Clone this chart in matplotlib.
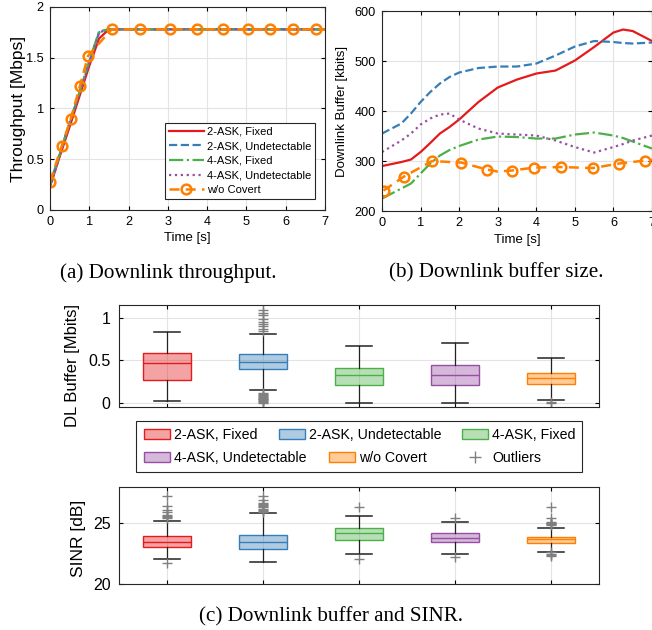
import matplotlib
matplotlib.use("Agg")
import matplotlib.pyplot as plt
from matplotlib.patches import Patch, Rectangle
from matplotlib.lines import Line2D

plt.rcParams['font.family'] = ['Liberation Sans', 'DejaVu Sans']

nomes = ["2-ASK, Fixed", "2-ASK, Undetectable", "4-ASK, Fixed", "4-ASK, Undetectable", "w/o Covert"]
cores = ["#e41a1c", "#377eb8", "#4daf4a", "#984ea3", "#ff7f00"]

# (a) throughput
t_thr = [0, 0.25, 0.5, 0.75, 1.0, 1.25, 1.5, 2, 3, 4, 5, 6, 7]
thr_2f = [0.23, 0.53, 0.82, 1.12, 1.42, 1.69, 1.78, 1.78, 1.78, 1.78, 1.78, 1.78, 1.78]
thr_2u = [0.25, 0.56, 0.86, 1.16, 1.46, 1.75, 1.78, 1.78, 1.78, 1.78, 1.78, 1.78, 1.78]
thr_4f = [0.24, 0.55, 0.86, 1.16, 1.47, 1.76, 1.78, 1.78, 1.78, 1.78, 1.78, 1.78, 1.78]
thr_4u = [0.22, 0.54, 0.85, 1.15, 1.45, 1.75, 1.78, 1.78, 1.78, 1.78, 1.78, 1.78, 1.78]
t_thr_wo = [0, 0.30, 0.53, 0.76, 0.97, 1.57, 2.29, 3.05, 3.73, 4.41, 5.04, 5.61, 6.19, 6.78, 7]
thr_wo = [0.28, 0.63, 0.90, 1.22, 1.52, 1.78, 1.78, 1.78, 1.78, 1.78, 1.78, 1.78, 1.78, 1.78, 1.78]

# (b) buffer
t_buf = [0, 0.5, 0.75, 1, 1.25, 1.5, 1.75, 2, 2.5, 3, 3.5, 4, 4.5, 5, 5.5, 6, 6.25, 6.5, 7]
buf_2f = [290, 298, 303, 318, 336, 355, 368, 383, 418, 447, 463, 475, 481, 501, 528, 557, 563, 560, 540]
buf_2u = [355, 375, 395, 418, 438, 455, 468, 477, 486, 489, 489, 495, 511, 529, 540, 538, 536, 535, 537]
buf_4f = [225, 245, 255, 275, 295, 311, 322, 330, 343, 349, 348, 345, 345, 353, 357, 351, 346, 339, 325]
buf_4u = [318, 341, 355, 373, 385, 393, 395, 383, 365, 355, 353, 351, 341, 328, 317, 328, 334, 341, 351]
t_buf_wo = [0.04, 0.57, 1.3, 2.05, 2.72, 3.0, 3.36, 3.95, 4.63, 5.47, 6.14, 6.82, 7]
buf_wo = [241, 269, 300, 297, 283, 279, 281, 287, 288, 286, 295, 301, 302]
marc_wo = [0, 1, 2, 3, 4, 6, 7, 8, 9, 10, 11]

# (c) box plots
dl_whislo = [0.016, 0.146, 0.0, 0.0, 0.028]
dl_q1 = [0.267, 0.393, 0.212, 0.212, 0.216]
dl_med = [0.47, 0.48, 0.322, 0.33, 0.287]
dl_q3 = [0.588, 0.573, 0.408, 0.44, 0.353]
dl_whishi = [0.835, 0.808, 0.667, 0.706, 0.525]
dl_fliers = [
    [],
    [0.84, 0.87, 0.90, 0.93, 0.95, 0.99, 1.03, 1.055, 1.09,
     0.0, 0.01, 0.02, 0.03, 0.04, 0.05, 0.06, 0.07, 0.08, 0.09, 0.1, 0.12],
    [],
    [],
    [0.0, 0.005],
]

sinr_whislo = [22.03, 21.78, 22.47, 22.47, 22.63]
sinr_q1 = [23.07, 22.88, 23.62, 23.43, 23.38]
sinr_med = [23.46, 23.46, 24.18, 23.79, 23.68]
sinr_q3 = [23.95, 24.06, 24.64, 24.18, 23.9]
sinr_whishi = [25.2, 25.82, 25.63, 25.1, 24.61]
sinr_fliers = [
    [25.4, 25.5, 25.6, 25.7, 25.9, 26.1, 26.4, 27.25, 21.7],
    [25.9, 26.0, 26.1, 26.2, 26.3, 26.4, 26.5, 26.6, 26.7, 26.9, 27.25],
    [26.29, 22.05],
    [25.46, 22.2],
    [24.85, 24.9, 24.95, 25.0, 25.05, 25.1, 25.46, 26.29, 22.3, 22.4, 22.5, 22.6],
]

fig = plt.figure(figsize=(6.52, 6.30), dpi=100)

def estilo(ax, tam):
    ax.grid(True, color="#e3e3e3", linewidth=0.8)
    ax.set_axisbelow(True)
    ax.tick_params(direction="in", top=True, right=True, labelsize=tam, length=3, pad=4.5)
    for s in ax.spines.values():
        s.set_color("#262626")
        s.set_linewidth(0.8)

# (a)
ax1 = fig.add_axes([0.0767, 0.6667, 0.4218, 0.3222])
ax1.plot(t_thr, thr_2f, "-", color=cores[0], lw=1.6, label=nomes[0])
ax1.plot(t_thr, thr_2u, "--", color=cores[1], lw=1.6, label=nomes[1])
ax1.plot(t_thr, thr_4f, "-.", color=cores[2], lw=1.6, label=nomes[2])
ax1.plot(t_thr, thr_4u, ":", color=cores[3], lw=1.6, label=nomes[3])
ax1.plot(t_thr_wo, thr_wo, "--", color=cores[4], lw=1.8, marker="o", ms=7,
         mfc="none", mew=1.8, markevery=list(range(14)), dashes=(4, 2.5), label=nomes[4])
ax1.set_xlim(0, 7)
ax1.set_ylim(0, 2)
ax1.set_xticks(range(8))
ax1.set_yticks([0, 0.5, 1, 1.5, 2])
ax1.set_yticklabels(["0", "0.5", "1", "1.5", "2"])
ax1.set_xlabel("Time [s]", fontsize=9.5)
ax1.set_ylabel("Throughput [Mbps]", fontsize=12.5)
ax1.xaxis.set_label_coords(0.5, -0.138)
ax1.xaxis.label.set_va("center")
ax1.yaxis.set_label_coords(-0.113, 0.5)
ax1.yaxis.label.set_va("center")
estilo(ax1, 9.2)
leg1 = ax1.legend(loc="lower right", bbox_to_anchor=(0.964, 0.054), fontsize=8,
                  fancybox=False, edgecolor="#262626", framealpha=1, handlelength=3.1,
                  handletextpad=0.3, borderpad=0.35, labelspacing=0.42, borderaxespad=0)
leg1.get_frame().set_linewidth(0.8)

# (b)
ax2 = fig.add_axes([0.5859, 0.665, 0.4141, 0.3175])
ax2.plot(t_buf, buf_2f, "-", color=cores[0], lw=1.6)
ax2.plot(t_buf, buf_2u, "--", color=cores[1], lw=1.6)
ax2.plot(t_buf, buf_4f, "-.", color=cores[2], lw=1.6)
ax2.plot(t_buf, buf_4u, ":", color=cores[3], lw=1.6)
ax2.plot(t_buf_wo, buf_wo, "--", color=cores[4], lw=1.8, marker="o", ms=7,
         mfc="none", mew=1.8, markevery=marc_wo, dashes=(4, 2.5))
ax2.set_xlim(0, 7)
ax2.set_ylim(200, 600)
ax2.set_xticks(range(8))
ax2.set_yticks([200, 300, 400, 500, 600])
ax2.set_xlabel("Time [s]", fontsize=9.5)
ax2.set_ylabel("Downlink Buffer [kbits]", fontsize=9.5)
ax2.xaxis.set_label_coords(0.5, -0.145)
ax2.xaxis.label.set_va("center")
ax2.yaxis.set_label_coords(-0.148, 0.5)
ax2.yaxis.label.set_va("center")
estilo(ax2, 9.2)

fig.text(168 / 652, 1 - 273 / 630, "(a) Downlink throughput.", family="Liberation Serif",
         fontsize=15.2, ha="center", va="center")
fig.text(496 / 652, 1 - 273 / 630, "(b) Downlink buffer size.", family="Liberation Serif",
         fontsize=15.2, ha="center", va="center")

def caixas(ax, whislo, q1, med, q3, whishi, fliers):
    stats = []
    for i in range(5):
        stats.append(dict(whislo=whislo[i], q1=q1[i], med=med[i], q3=q3[i],
                          whishi=whishi[i], fliers=fliers[i]))
    b = ax.bxp(stats, positions=range(1, 6), widths=0.5, patch_artist=True,
               capwidths=0.27, showfliers=True,
               whiskerprops=dict(color="#222222", lw=0.9),
               capprops=dict(color="#222222", lw=1.1),
               flierprops=dict(marker="+", markeredgecolor="#808080", ms=7, mew=1.0))
    for i in range(5):
        b["boxes"][i].set_facecolor(matplotlib.colors.to_rgba(cores[i], 0.4))
        b["boxes"][i].set_edgecolor(cores[i])
        b["boxes"][i].set_linewidth(1.0)
        b["medians"][i].set_color(cores[i])
        b["medians"][i].set_linewidth(1.0)
    ax.set_xlim(0.5, 5.5)
    ax.set_xticks(range(1, 6))
    ax.set_xticklabels([])
    ax.grid(True, color="#e3e3e3", linewidth=0.8)
    ax.set_axisbelow(True)
    ax.tick_params(direction="in", top=True, right=True, labelsize=11.5, length=3, pad=6)
    for s in ax.spines.values():
        s.set_color("#262626")
        s.set_linewidth(0.8)

ax3 = fig.add_axes([119 / 652, 1 - 407 / 630, 480 / 652, 102 / 630])
caixas(ax3, dl_whislo, dl_q1, dl_med, dl_q3, dl_whishi, dl_fliers)
ax3.set_ylim(-0.05, 1.15)
ax3.set_yticks([0, 0.5, 1])
ax3.set_yticklabels(["0", "0.5", "1"])
ax3.set_ylabel("DL Buffer [Mbits]", fontsize=12)
ax3.yaxis.set_label_coords(-0.096, 0.41)
ax3.yaxis.label.set_va("center")

ax4 = fig.add_axes([119 / 652, 1 - 584 / 630, 480 / 652, 97.3 / 630])
caixas(ax4, sinr_whislo, sinr_q1, sinr_med, sinr_q3, sinr_whishi, sinr_fliers)
ax4.set_ylim(20, 28)
ax4.set_yticks([20, 25])
ax4.set_ylabel("SINR [dB]", fontsize=12.5)
ax4.yaxis.set_label_coords(-0.085, 0.473)
ax4.yaxis.label.set_va("center")

# legend of panel (c): frame plus one entry per item, MATLAB-like placement
fig.add_artist(Rectangle((136 / 652, 1 - 472 / 630), 446 / 652, 51 / 630,
                         transform=fig.transFigure, facecolor="white",
                         edgecolor="#262626", lw=0.8))
alcas = [Patch(facecolor=matplotlib.colors.to_rgba(c, 0.4), edgecolor=c, lw=1.0) for c in cores]
alcas.append(Line2D([], [], ls="none", marker="+", markeredgecolor="#808080", ms=8, mew=1.0))
rotulos = nomes + ["Outliers"]
ordem = [0, 1, 2, 3, 4, 5]
pos_x = [144, 279, 462, 144, 329, 462]
pos_y = [435, 435, 435, 457.7, 457.7, 457.7]
for k, i in enumerate(ordem):
    lg = fig.legend([alcas[i]], [rotulos[i]], loc="center left",
                    bbox_to_anchor=(pos_x[k] / 652, 1 - pos_y[k] / 630),
                    fontsize=10.2, frameon=False, handlelength=1.85,
                    handletextpad=0.3, borderpad=0, borderaxespad=0)

fig.text(331 / 652, 1 - 617 / 630, "(c) Downlink buffer and SINR.", family="Liberation Serif",
         fontsize=15.2, ha="center", va="center")

fig.savefig("out.png", dpi=100)
